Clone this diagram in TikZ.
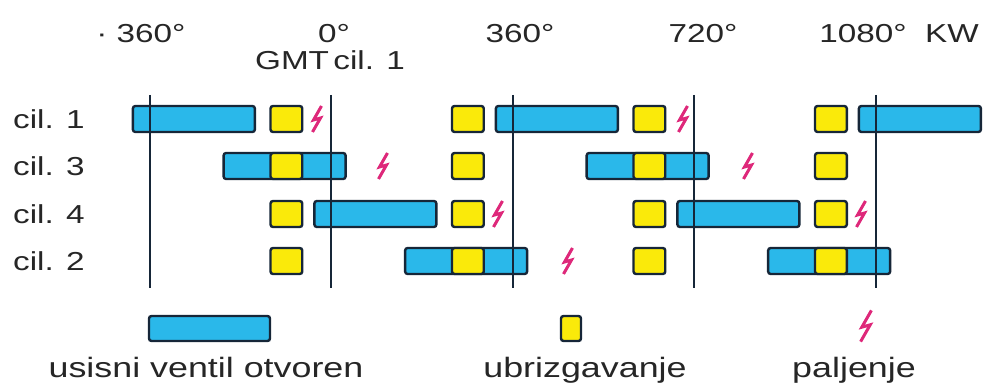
\documentclass[tikz,border=0pt]{standalone}
\usepackage{fontspec}
\setmainfont{Liberation Sans}[FakeStretch=1.28]
\usepackage{tikz}
\definecolor{intakeblue}{RGB}{42,184,234}
\definecolor{injyellow}{RGB}{250,234,10}
\definecolor{sparkred}{RGB}{222,40,122}
\definecolor{edgedark}{RGB}{22,38,56}
\definecolor{textgray}{RGB}{38,38,38}

\begin{document}
\begin{tikzpicture}[x=1pt, y=-1pt]
\tikzset{every node/.style={font=\fontsize{26}{28}\selectfont, text=textgray, inner sep=0pt}}
\tikzset{legend/.style={font=\fontsize{28}{30}\selectfont, anchor=base}}
\tikzset{intake/.style={draw=edgedark, fill=intakeblue, line width=2.4pt, rounded corners=2.5pt}}
\tikzset{inject/.style={draw=edgedark, fill=injyellow, line width=2.4pt, rounded corners=2.5pt}}
\tikzset{tdc/.style={draw=edgedark, line width=2pt}}
\tikzset{spark/.pic={\draw[sparkred, line width=3pt] (4.5,-13) -- (-3.5,1) -- (3.5,-1) -- (-4.5,13);}}
\useasboundingbox (0,0) rectangle (987,385);

% crank angle scale
\node[anchor=base] (m360) at (141,43) {· 360°};
\node[anchor=base] (d0) at (334,43) {0°};
\node[anchor=base] (gmt) at (330,70) {GMT\,cil. 1};
\node[anchor=base] (d360) at (520,43) {360°};
\node[anchor=base] (d720) at (703,43) {720°};
\node[anchor=base] (d1080) at (899,43) {1080°\ \ KW};

\foreach \n/\y in {1/119, 3/166, 4/214, 2/261}
  \node[anchor=west] (cil\n) at (13,\y) {cil. \n};

\begin{scope}[x=0.5042pt, xshift=331pt]
\foreach \a/\y in {-393/119, 327/119, 1047/119, -213/166, 507/166, -33/214, 687/214, 147/261, 867/261}
  \draw[intake] (\a,\y) ++(0,-13) rectangle ++(242,26);
\foreach \y in {119,166,214,261}
  \foreach \a in {-120,240,600,960}
    \draw[inject] (\a,\y) ++(0,-13) rectangle ++(63,26);
\foreach \a in {-359,0,360,720,1080}
  \draw[tdc] (\a,95) -- (\a,288);
\end{scope}

\foreach \x/\y in {317/119, 683/119, 383/166, 748/166, 498/214, 861/214, 568/261}
  \pic at (\x,\y) {spark};

% legend
\draw[intake] (149,316) rectangle (270,341);
\draw[inject] (561,316) rectangle (581,341);
\pic[scale=1.2] at (866,326) {spark};
\node[legend] (lintake) at (206,377) {usisni ventil otvoren};
\node[legend] (linject) at (585,377) {ubrizgavanje};
\node[legend] (lspark) at (854,377) {paljenje};
\end{tikzpicture}
\end{document}
